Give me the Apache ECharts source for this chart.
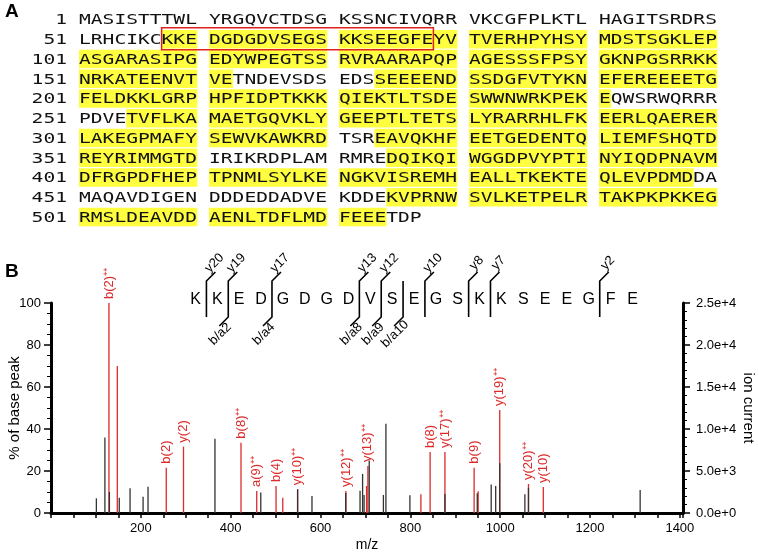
<!DOCTYPE html>
<html><head><meta charset="utf-8">
<script src="https://cdn.jsdelivr.net/npm/echarts@6/dist/echarts.min.js"></script>
<style>html,body{margin:0;padding:0;background:#fff}#c{width:759px;height:556px}</style>
</head><body><div id="c"></div>
<script>
// ---------- Panel A data ----------
const sequence =
  'MASISTTTWLYRGQVCTDSGKSSNCIVQRRVKCGFPLKTLHAGITSRDRS' +
  'LRHCIKCKKEDGDGDVSEGSKKSEEGFEYVTVERHPYHSYMDSTSGKLEP' +
  'ASGARASIPGEDYWPEGTSSRVRAARAPQPAGESSSFPSYGKNPGSRRKK' +
  'NRKATEENVTVETNDEVSDSEDSSEEEENDSSDGFVTYKNEFEREEEETG' +
  'FELDKKLGRPHPFIDPTKKKQIEKTLTSDESWWNWRKPEKEQWSRWQRRR' +
  'PDVETVFLKAMAETGQVKLYGEEPTLTETSLYRARRHLFKEERLQAERER' +
  'LAKEGPMAFYSEWVKAWKRDTSREAVQKHFEETGEDENTQLIEMFSHQTD' +
  'REYRIMMGTDIRIKRDPLAMRMREDQIKQIWGGDPVYPTINYIQDPNAVM' +
  'DFRGPDFHEPTPNMLSYLKENGKVISREMHEALLTKEKTEQLEVPDMDDA' +
  'MAQAVDIGENDDDEDDADVEKDDEKVPRNWSVLKETPELRTAKPKPKKEG' +
  'RMSLDEAVDDAENLTDFLMDFEEETDP';
const highlightRanges = [[58,162],[174,241],[255,320],[324,360],[375,448],[475,524]];
const boxedRange = [58,78];

// ---------- Panel B peptide ----------
const peptide = ['K','K','E','D','G','D','G','D','V','S','E','G','S','K','K','S','E','E','G','F','E'];
const yIonCuts = [1,2,4,8,9,11,13,14,19];
const yIonNames = ['y20','y19','y17','y13','y12','y10','y8','y7','y2'];
const bIonCuts = [2,4,8,9,10];
const bIonNames = ['b/a2','b/a4','b/a8','b/a9','b/a10'];

// ---------- Spectrum data ----------
const blackMz  = [101,120,130,152,176,205,216,365,467,549,581,656,688,693.7,697,708.5,740,745.6,799,877,949,980,990,999,1055,1063,1311.6];
const blackPct = [7,36,10,7.3,11.8,7.7,12.5,35.3,9.8,11.3,8.1,9.5,10.6,18.6,8.6,25,8.6,42.5,8.4,9,9.4,13.6,12.8,23.7,8.9,12,11];
const redMz    = [129,147.6,256.6,295,423,458,501,516,549,656.6,702.6,705.5,823.5,844,877,942,951,999,1063,1096];
const redPct   = [100,70,21.6,31.6,33.5,10.5,12.9,7.3,11.3,10.5,12.9,22.4,8.9,29,29,21.6,10.3,49,13.8,12.4];
const redLabels= ['b(2)⁺⁺','','b(2)','y(2)','b(8)⁺⁺','a(9)⁺⁺','b(4)','','y(10)⁺⁺','y(12)⁺⁺','','y(13)⁺⁺','','b(8)','y(17)⁺⁺','b(9)','','y(19)⁺⁺','y(20)⁺⁺','y(10)'];
const xLabelStep = 200;
const leftTicks = [0,100,20];      // min, max, interval
const rightTicks = [0,25000,5000];

// ---------- Build graphics ----------
const SANS = '"Liberation Sans", Arial, sans-serif';
const MONO = '"DejaVu Sans Mono", monospace';
const FS = 14.8, PITCH = 11.8, SX = PITCH / (FS * 0.6021);
const X0 = 79, BLOCK = 130, Y0 = 19.5, ROWH = 19.75;
const YELLOW = '#ffff40', RED = '#dd2a2a';
const g = [];
function cellX(i) { const c = i % 50; return X0 + Math.floor(c / 10) * BLOCK + (c % 10) * PITCH; }
function rowY(i) { return Y0 + Math.floor(i / 50) * ROWH; }
function isHL(i) { const r = i + 1; return highlightRanges.some(h => r >= h[0] && r <= h[1]); }
function txt(x, y, text, font, fill, align, valign, extra) {
  return Object.assign({ type: 'text', x: x, y: y, z: 10,
    style: { text: text, font: font, fill: fill, align: align, verticalAlign: valign,
             textAlign: align, textVerticalAlign: valign } }, extra || {});
}
for (let b = 0; b * 10 < sequence.length; b++) {
  let start = -1;
  const end = Math.min(b * 10 + 10, sequence.length);
  for (let i = b * 10; i <= end; i++) {
    const h = i < end && isHL(i);
    if (h && start < 0) start = i;
    if (!h && start >= 0) {
      g.push({ type: 'rect', z: 1, shape: { x: cellX(start), y: rowY(start) - 9.25, width: (i - start) * PITCH + 0.3, height: 18.5 },
               style: { fill: YELLOW } });
      start = -1;
    }
  }
  g.push(txt(X0 + (b % 5) * BLOCK, rowY(b * 10) + 1, sequence.slice(b * 10, end), FS + 'px ' + MONO, '#111', 'left', 'middle', { scaleX: SX }));
}
for (let r = 0; r * 50 < sequence.length; r++) {
  g.push(txt(67, Y0 + r * ROWH + 1, String(r * 50 + 1), FS + 'px ' + MONO, '#111', 'right', 'middle', { scaleX: SX }));
}
{
  const s = boxedRange[0] - 1, e = boxedRange[1] - 1;
  const x1 = cellX(s), x2 = cellX(e) + PITCH, yc = rowY(s);
  g.push({ type: 'rect', z: 12, shape: { x: x1, y: yc - 11.5, width: x2 - x1, height: 22 },
           style: { fill: 'none', stroke: '#e02020', lineWidth: 1.5 } });
}
g.push(txt(5, 12, 'A', 'bold 19px ' + SANS, '#000', 'left', 'middle'));
g.push(txt(5, 272, 'B', 'bold 19px ' + SANS, '#000', 'left', 'middle'));
const PX0 = 195.5, PSTEP = 21.85, PY = 300;
peptide.forEach((aa, i) => g.push(txt(PX0 + i * PSTEP, PY, aa, '16px ' + SANS, '#000', 'center', 'middle')));
const cuts = Array.from(new Set(yIonCuts.concat(bIonCuts))).sort((a, b) => a - b);
cuts.forEach(n => {
  const x = PX0 + (n - 0.5) * PSTEP;
  const pts = [];
  const yi = yIonCuts.indexOf(n), bi = bIonCuts.indexOf(n);
  if (yi >= 0) pts.push([x + 9, 272]);
  pts.push([x, 281]); pts.push([x, 317]);
  if (bi >= 0) pts.push([x - 9, 326]);
  g.push({ type: 'polyline', z: 10, shape: { points: pts }, style: { stroke: '#000', lineWidth: 1.6, fill: null } });
  if (yi >= 0) g.push(txt(x + 8, 263, yIonNames[yi], '13px ' + SANS, '#000', 'center', 'middle', { rotation: Math.PI / 4 }));
  if (bi >= 0) g.push(txt(x - 8, 334, bIonNames[bi], '13px ' + SANS, '#000', 'center', 'middle', { rotation: Math.PI / 4 }));
});

// ---------- Chart ----------
function peakRenderer(color, labels) {
  return function (params, api) {
    const x = api.value(0), h = api.value(1);
    const p0 = api.coord([x, 0]), p1 = api.coord([x, h]);
    const children = [{ type: 'line', shape: { x1: p0[0], y1: p0[1], x2: p1[0], y2: p1[1] },
                        style: { stroke: color, lineWidth: 1.3 } }];
    const lab = labels && labels[params.dataIndex];
    if (lab) children.push({ type: 'text', x: p1[0], y: p1[1] - 4, rotation: Math.PI / 2,
      style: { text: lab, font: '13px ' + SANS, fill: RED, align: 'left', verticalAlign: 'middle',
               textAlign: 'left', textVerticalAlign: 'middle' } });
    return { type: 'group', children: children };
  };
}
const chart = echarts.init(document.getElementById('c'), null, { renderer: 'canvas' });
const axisFont = { color: '#000', fontSize: 13, fontFamily: SANS };
chart.setOption({
  animation: false,
  grid: { left: 51, right: 76, top: 303, bottom: 43, containLabel: false, outerBoundsMode: 'none' },
  xAxis: {
    type: 'value', min: 0, max: 1407, interval: 50,
    name: 'm/z', nameLocation: 'middle', nameGap: 25, nameMoveOverlap: false,
    nameTextStyle: { color: '#000', fontSize: 14, fontFamily: SANS },
    axisLine: { show: true, onZero: false, lineStyle: { color: '#000', width: 3 } },
    axisTick: { show: true, length: 5, lineStyle: { color: '#000', width: 1.5 } },
    axisLabel: Object.assign({ margin: 9, formatter: v => (v > 0 && v % xLabelStep === 0) ? String(v) : '' }, axisFont),
    splitLine: { show: false }
  },
  yAxis: [{
    type: 'value', position: 'left', min: leftTicks[0], max: leftTicks[1], interval: leftTicks[2],
    name: '% of base peak', nameLocation: 'middle', nameGap: 29, nameMoveOverlap: false,
    nameTextStyle: { color: '#000', fontSize: 15, fontFamily: SANS },
    axisLine: { show: true, lineStyle: { color: '#000', width: 3 } },
    axisTick: { show: true, length: 7, lineStyle: { color: '#000', width: 1.5 } },
    minorTick: { show: true, splitNumber: 4, length: 4, lineStyle: { color: '#000', width: 1 } },
    axisLabel: Object.assign({ margin: 10 }, axisFont),
    splitLine: { show: false }
  }, {
    type: 'value', position: 'right', min: rightTicks[0], max: rightTicks[1], interval: rightTicks[2],
    name: 'ion current', nameLocation: 'middle', nameGap: 58, nameRotate: -90, nameMoveOverlap: false,
    nameTextStyle: { color: '#000', fontSize: 15, fontFamily: SANS },
    axisLine: { show: true, lineStyle: { color: '#000', width: 3 } },
    axisTick: { show: true, length: 7, lineStyle: { color: '#000', width: 1.5 } },
    minorTick: { show: true, splitNumber: 5, length: 4, lineStyle: { color: '#000', width: 1 } },
    axisLabel: Object.assign({ margin: 13, formatter: v => v.toExponential(1) }, axisFont),
    splitLine: { show: false }
  }],
  series: [{
    type: 'custom', xAxisIndex: 0, yAxisIndex: 0, z: 2, clip: false,
    data: redMz.map((m, i) => [m, redPct[i]]),
    renderItem: peakRenderer(RED, redLabels)
  }, {
    type: 'custom', xAxisIndex: 0, yAxisIndex: 0, z: 3, clip: false,
    data: blackMz.map((m, i) => [m, blackPct[i]]),
    renderItem: peakRenderer('#333', null)
  }],
  graphic: g
});
</script></body></html>
